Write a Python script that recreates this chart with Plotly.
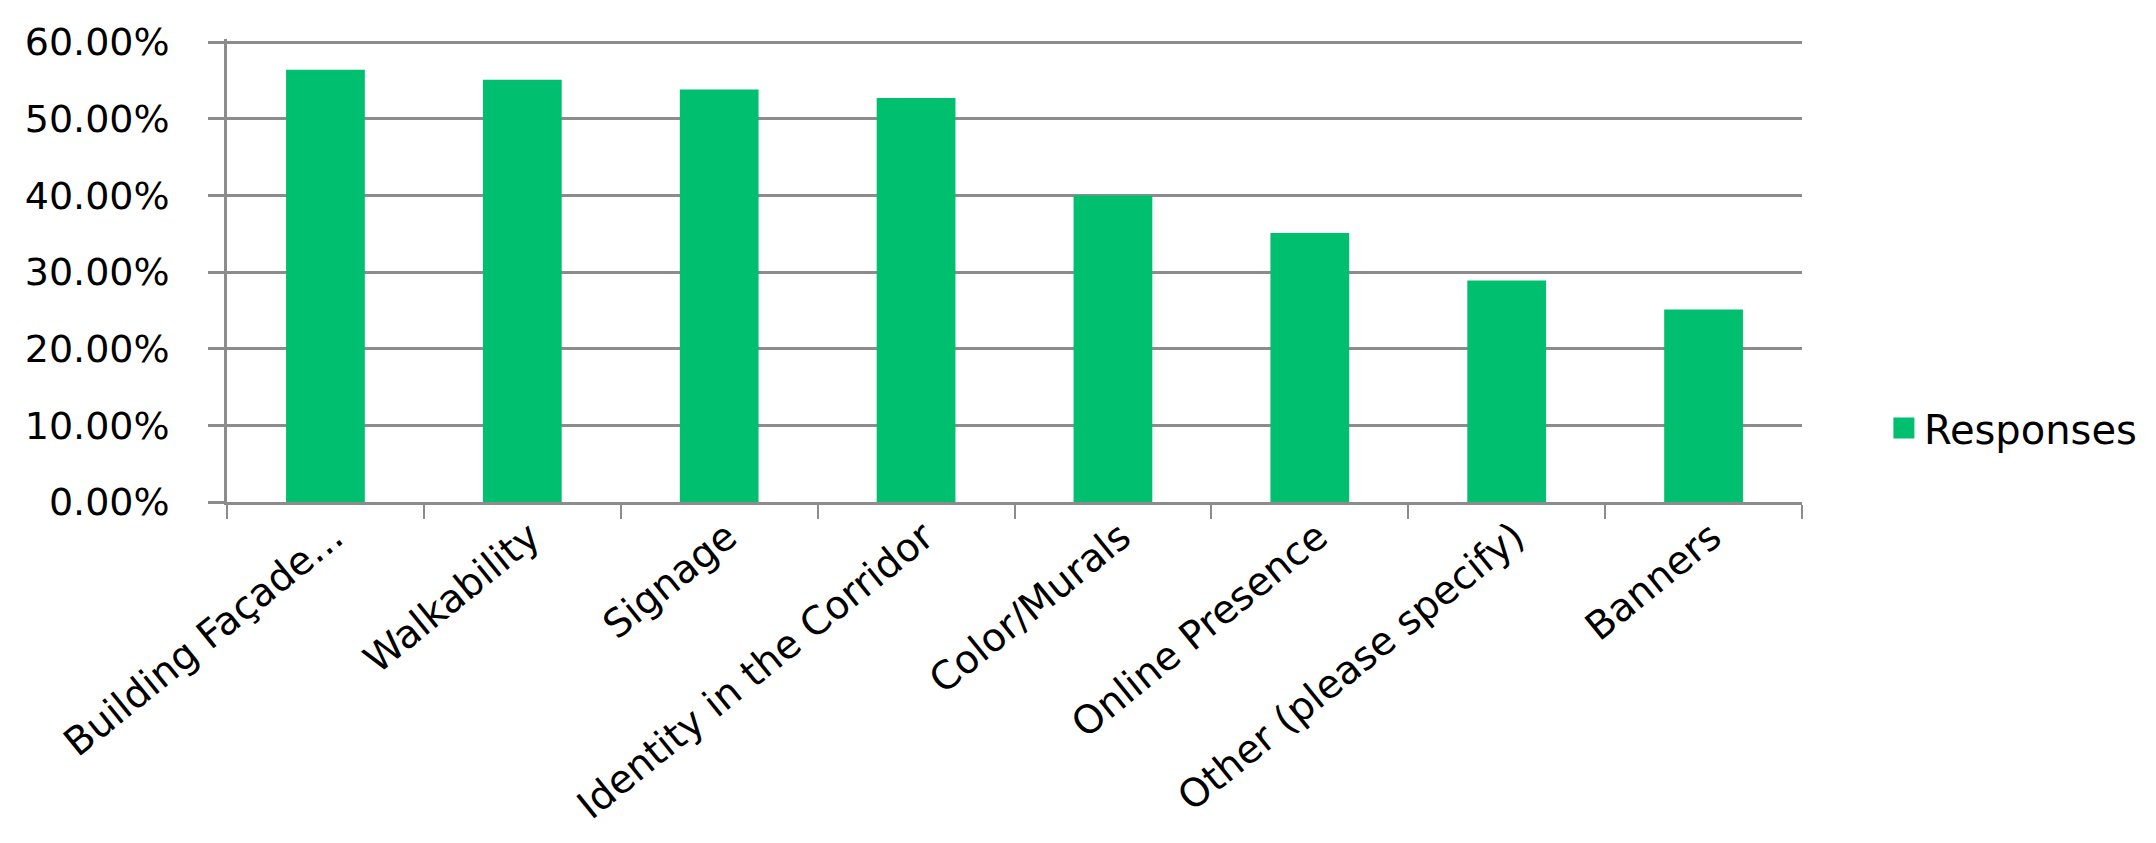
import plotly.graph_objects as go

categories = ["Building Façade...", "Walkability", "Signage", "Identity in the Corridor",
              "Color/Murals", "Online Presence", "Other (please specify)", "Banners"]
responses = [0.564, 0.551, 0.538, 0.527, 0.400, 0.351, 0.289, 0.251]
y_ticks = [0, 0.1, 0.2, 0.3, 0.4, 0.5, 0.6]

FONT = "DejaVu Sans"
GRID = "#8c8c8c"
GREEN = "#00BF6F"

fig = go.Figure()
fig.add_trace(go.Bar(x=categories, y=responses, name="Responses", legendgroup="r",
                     showlegend=False,
                     marker=dict(color=GREEN, line=dict(width=0))))
# legend entry for the bar series (larger square swatch)
fig.add_trace(go.Scatter(x=[None], y=[None], mode="markers", name="Responses",
                         legendgroup="r", showlegend=True, hoverinfo="skip",
                         marker=dict(symbol="square", size=16, color=GREEN,
                                     line=dict(width=5, color=GREEN))))

fig.update_layout(
    width=2156, height=843,
    margin=dict(l=219, r=362, t=26, b=349),
    paper_bgcolor="white", plot_bgcolor="white",
    bargap=0.6,
    showlegend=True,
    font=dict(family=FONT, color="black", size=38),
    legend=dict(x=1.052, y=0.16, xanchor="left", yanchor="middle",
                font=dict(family=FONT, size=40, color="black")),
    xaxis=dict(showline=True, linecolor=GRID, linewidth=2.5,
               ticks="outside", tickson="boundaries", ticklen=14, tickwidth=2, tickcolor=GRID,
               tickangle=-39, tickfont=dict(family=FONT, size=39),
               ticklabelstandoff=-6, ticklabelshift=8,
               showgrid=False),
    yaxis=dict(range=[0, 0.604], tickvals=y_ticks, tickformat=".2%",
               showline=True, linecolor=GRID, linewidth=2.5,
               ticks="outside", ticklen=16, tickwidth=2.5, tickcolor=GRID,
               showgrid=True, gridcolor=GRID, gridwidth=2.5,
               zeroline=False, ticklabelstandoff=31,
               tickfont=dict(family=FONT, size=38)),
)

fig.write_html("out.html")
